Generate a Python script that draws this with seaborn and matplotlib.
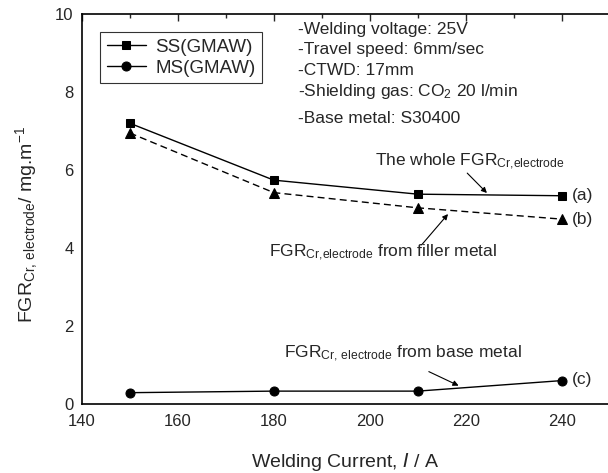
import numpy as np
import pandas as pd
import seaborn as sns
import matplotlib.pyplot as plt

# welding current (A)
current = [150, 180, 210, 240]
# FGR Cr electrode, mg/m
fgr_whole = [7.2, 5.74, 5.38, 5.34]     # (a) SS(GMAW)
fgr_filler = [6.95, 5.42, 5.03, 4.74]   # (b)
fgr_base = [0.29, 0.33, 0.33, 0.60]     # (c) MS(GMAW)

conditions = ['-Welding voltage: 25V',
              '-Travel speed: 6mm/sec',
              '-CTWD: 17mm',
              '-Shielding gas: CO$_2$ 20 l/min',
              '-Base metal: S30400']

sns.set_style('white')
plt.rcParams['font.family'] = ['Liberation Sans', 'DejaVu Sans']
plt.rcParams['mathtext.default'] = 'regular'

df = pd.DataFrame({'current': current, 'whole': fgr_whole,
                   'filler': fgr_filler, 'base': fgr_base})

fig, ax = plt.subplots(figsize=(6.08, 4.73), dpi=100)
fig.subplots_adjust(left=0.1344, right=1.003, top=0.9704, bottom=0.1459)

sns.lineplot(data=df, x='current', y='whole', color='k', lw=1,
             marker='s', markersize=5.5, markeredgecolor='k', ax=ax,
             label='SS(GMAW)')
sns.lineplot(data=df, x='current', y='base', color='k', lw=1,
             marker='o', markersize=6.5, markeredgecolor='k', ax=ax,
             label='MS(GMAW)')
sns.lineplot(data=df, x='current', y='filler', color='k', lw=1,
             marker='^', markersize=7, markeredgecolor='k', ax=ax,
             linestyle='--', legend=False)
ax.lines[2].set_dashes([5, 3])

ax.set_xlim(140, 250)
ax.set_ylim(0, 10)
ax.set_xticks([140, 160, 180, 200, 220, 240])
ax.set_xticks([150, 170, 190, 210, 230, 250], minor=True)
ax.set_yticks([0, 2, 4, 6, 8, 10])
ax.set_yticks([1, 3, 5, 7, 9], minor=True)
ax.tick_params(which='both', direction='in', top=True, right=False,
               labelsize=12, width=1)
ax.tick_params(which='major', length=5)
ax.tick_params(which='minor', length=3)
ax.tick_params(axis='x', pad=7)
ax.tick_params(axis='y', pad=6)
ax.spines['right'].set_visible(False)
for s in ax.spines.values():
    s.set_linewidth(1.2)
    s.set_color('k')

ax.set_xlabel('Welding Current, $\\it{I}$ / A', fontsize=14, labelpad=16)
ax.set_ylabel('FGR$_{Cr{,}\\ electrode}$/ mg.m$^{-1}$', fontsize=14)
ax.yaxis.set_label_coords(-0.079, 0.46)

leg = ax.legend(loc='upper left', fontsize=13.5, frameon=True, fancybox=False,
                handlelength=2.1, handletextpad=0.5, borderpad=0.35,
                labelspacing=0.2, bbox_to_anchor=(0.017, 0.977))
leg.get_frame().set_edgecolor('k')
leg.get_frame().set_linewidth(0.8)

cond_y = [9.59, 9.08, 8.54, 8.0, 7.33]
for t, yy in zip(conditions, cond_y):
    ax.text(185.1, yy, t, fontsize=12.5, va='center', ha='left')

ax.text(242.1, fgr_whole[3], '(a)', fontsize=12.5, va='center', ha='left')
ax.text(242.1, fgr_filler[3], '(b)', fontsize=12.5, va='center', ha='left')
ax.text(242.1, 0.62, '(c)', fontsize=12.5, va='center', ha='left')

arw = dict(arrowstyle='-|>', color='k', lw=0.8, mutation_scale=8,
           shrinkA=0, shrinkB=0)
ax.text(201.1, 6.21, 'The whole FGR$_{Cr{,}electrode}$', fontsize=12.5, va='center')
ax.annotate('', xy=(224.4, 5.41), xytext=(220.3, 5.92), arrowprops=arw)
ax.text(226.5, 3.87, 'FGR$_{Cr{,}electrode}$ from filler metal', fontsize=12.5,
        va='center', ha='right')
ax.annotate('', xy=(216.3, 4.87), xytext=(210.8, 4.08), arrowprops=arw)
ax.text(182.1, 1.28, 'FGR$_{Cr{,}\\ electrode}$ from base metal', fontsize=12.5,
        va='center')
ax.annotate('', xy=(218.5, 0.47), xytext=(212.3, 0.83), arrowprops=arw)

fig.savefig('out.png', dpi=100)
